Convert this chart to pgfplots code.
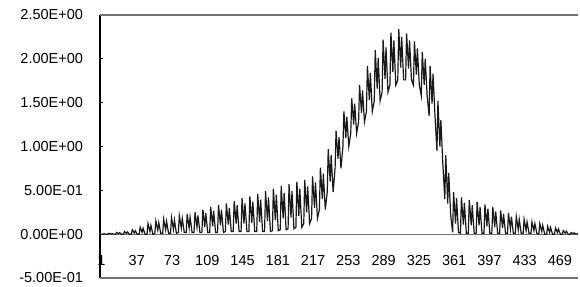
\documentclass[border=0pt]{standalone}
\usepackage{fontspec}
\setmainfont{Liberation Sans}
\usepackage{pgfplots}
\pgfplotsset{compat=1.18}
\usepackage{pgfplotstable}
\usetikzlibrary{calc}
\pgfplotstableread{
x y
1 0
2 0
4 0
5 0.005
7 0
9 0
10 0.01
12 0.002
13 0.008
15 0
17 0
18 0.02
20 0.005
21 0.017
23 0
25 0
26 0.03
28 0.008
29 0.026
31 0
33 0
34 0.05
36 0.012
37 0.04
39 0
41 0
42 0.08
44 0.02
45 0.068
47 0
49 0
50 0.12
52 0.03
53 0.10
55 0
57 0.01
58 0.15
60 0.045
61 0.13
63 0.01
65 0.01
66 0.17
68 0.05
69 0.145
71 0.01
73 0.01
74 0.19
76 0.055
77 0.16
79 0.01
81 0.02
82 0.21
84 0.07
85 0.18
87 0.02
89 0.02
90 0.23
92 0.07
93 0.195
95 0.02
97 0.02
98 0.25
100 0.08
101 0.215
103 0.02
105 0.02
106 0.28
108 0.085
109 0.24
111 0.02
113 0.02
114 0.31
116 0.09
117 0.265
119 0.02
121 0.02
122 0.33
124 0.10
125 0.28
127 0.02
129 0.03
130 0.35
132 0.11
133 0.30
135 0.03
137 0.03
138 0.38
140 0.12
141 0.33
143 0.03
145 0.03
146 0.41
148 0.12
149 0.35
151 0.03
153 0.03
154 0.43
156 0.13
157 0.37
159 0.03
161 0.03
162 0.46
164 0.14
165 0.395
167 0.03
169 0.03
170 0.49
172 0.15
173 0.42
175 0.03
177 0.04
178 0.52
180 0.16
181 0.45
183 0.04
185 0.05
186 0.55
188 0.18
189 0.47
191 0.05
193 0.06
194 0.57
196 0.19
197 0.49
199 0.06
201 0.08
202 0.60
204 0.21
205 0.52
207 0.08
209 0.12
210 0.62
212 0.25
213 0.545
215 0.12
217 0.18
218 0.66
220 0.30
221 0.59
223 0.18
225 0.28
226 0.76
228 0.40
229 0.69
231 0.28
233 0.48
234 0.97
236 0.60
237 0.90
239 0.48
241 0.75
242 1.18
244 0.86
245 1.11
247 0.75
249 1.00
250 1.40
252 1.10
253 1.34
255 1.00
257 1.15
258 1.55
260 1.25
261 1.49
263 1.15
265 1.28
266 1.70
268 1.38
269 1.64
271 1.28
273 1.40
274 1.92
276 1.53
277 1.84
279 1.40
281 1.52
282 2.10
284 1.66
285 2.01
287 1.52
289 1.62
290 2.22
292 1.77
293 2.13
295 1.62
297 1.70
298 2.30
300 1.85
301 2.21
303 1.70
305 1.76
306 2.34
308 1.90
309 2.25
311 1.76
313 1.76
314 2.29
316 1.89
317 2.21
319 1.76
321 1.70
322 2.20
324 1.82
325 2.12
327 1.70
329 1.58
330 2.08
332 1.70
333 2.00
335 1.58
337 1.35
338 1.92
340 1.49
341 1.83
343 1.35
345 0.95
346 1.52
348 1.00
349 1.30
351 0.80
353 0.40
354 0.90
356 0.35
357 0.70
359 0.22
361 0.02
362 0.48
364 0.12
365 0.41
367 0.02
369 0.01
370 0.42
372 0.11
373 0.36
375 0.01
377 0.01
378 0.39
380 0.10
381 0.33
383 0.01
385 0.01
386 0.37
388 0.10
389 0.31
391 0.01
393 0.01
394 0.34
396 0.09
397 0.29
399 0.01
401 0.01
402 0.31
404 0.08
405 0.26
407 0.01
409 0.01
410 0.27
412 0.07
413 0.23
415 0.01
417 0.01
418 0.24
420 0.06
421 0.20
423 0.01
425 0.01
426 0.20
428 0.05
429 0.17
431 0.01
433 0.01
434 0.17
436 0.04
437 0.14
439 0.01
441 0.01
442 0.14
444 0.04
445 0.12
447 0.01
449 0
450 0.12
452 0.03
453 0.10
455 0
457 0
458 0.09
460 0.02
461 0.075
463 0
465 0
466 0.07
468 0.02
469 0.06
471 0
473 0
474 0.04
476 0.01
477 0.035
479 0
481 0
482 0.02
484 0.005
485 0.015
487 0
489 0.005
}\datatable
\begin{document}
\fontsize{14.5}{17}\selectfont
\begin{tikzpicture}
\begin{axis}[
  scale only axis, width=478pt, height=263pt,
  xmin=1, xmax=489, ymin=-0.5, ymax=2.5,
  axis x line=middle, axis y line=left,
  hide obscured x ticks=false, hide obscured y ticks=false,
  /pgf/number format/assume math mode=true,
  x axis line style={draw=black!55, line width=1.2pt, -},
  y axis line style={draw=black, line width=1.5pt, -},
  xtick={1,37,...,469},
  xtick style={draw=none},
  xticklabel style={yshift=-16pt, xshift=1.5pt, font=\fontsize{14.5}{17}\selectfont},
  ytick={-0.5,0,0.5,1,1.5,2,2.5},
  yticklabels={-5.00E-01,0.00E+00,5.00E-01,1.00E+00,1.50E+00,2.00E+00,2.50E+00},
  yticklabel style={xshift=-12pt, font=\fontsize{14.5}{17}\selectfont},
  ytick style={black, line width=0.8pt},
  tick align=inside, major tick length=3pt,
  clip=false,
]
\addplot[black!90, line width=1.2pt, mark=none] table[x=x, y=y]{\datatable};
\draw[black!55, line width=1.2pt] (axis cs:1,2.5) -- (axis cs:489,2.5);
\draw[black!55, line width=1.2pt] (axis cs:1,-0.5) -- (axis cs:489,-0.5);
\end{axis}
\pgfresetboundingbox
\path ($(current axis.south west)+(-100pt,-8pt)$) rectangle ($(current axis.north east)+(2pt,15pt)$);
\end{tikzpicture}
\end{document}
